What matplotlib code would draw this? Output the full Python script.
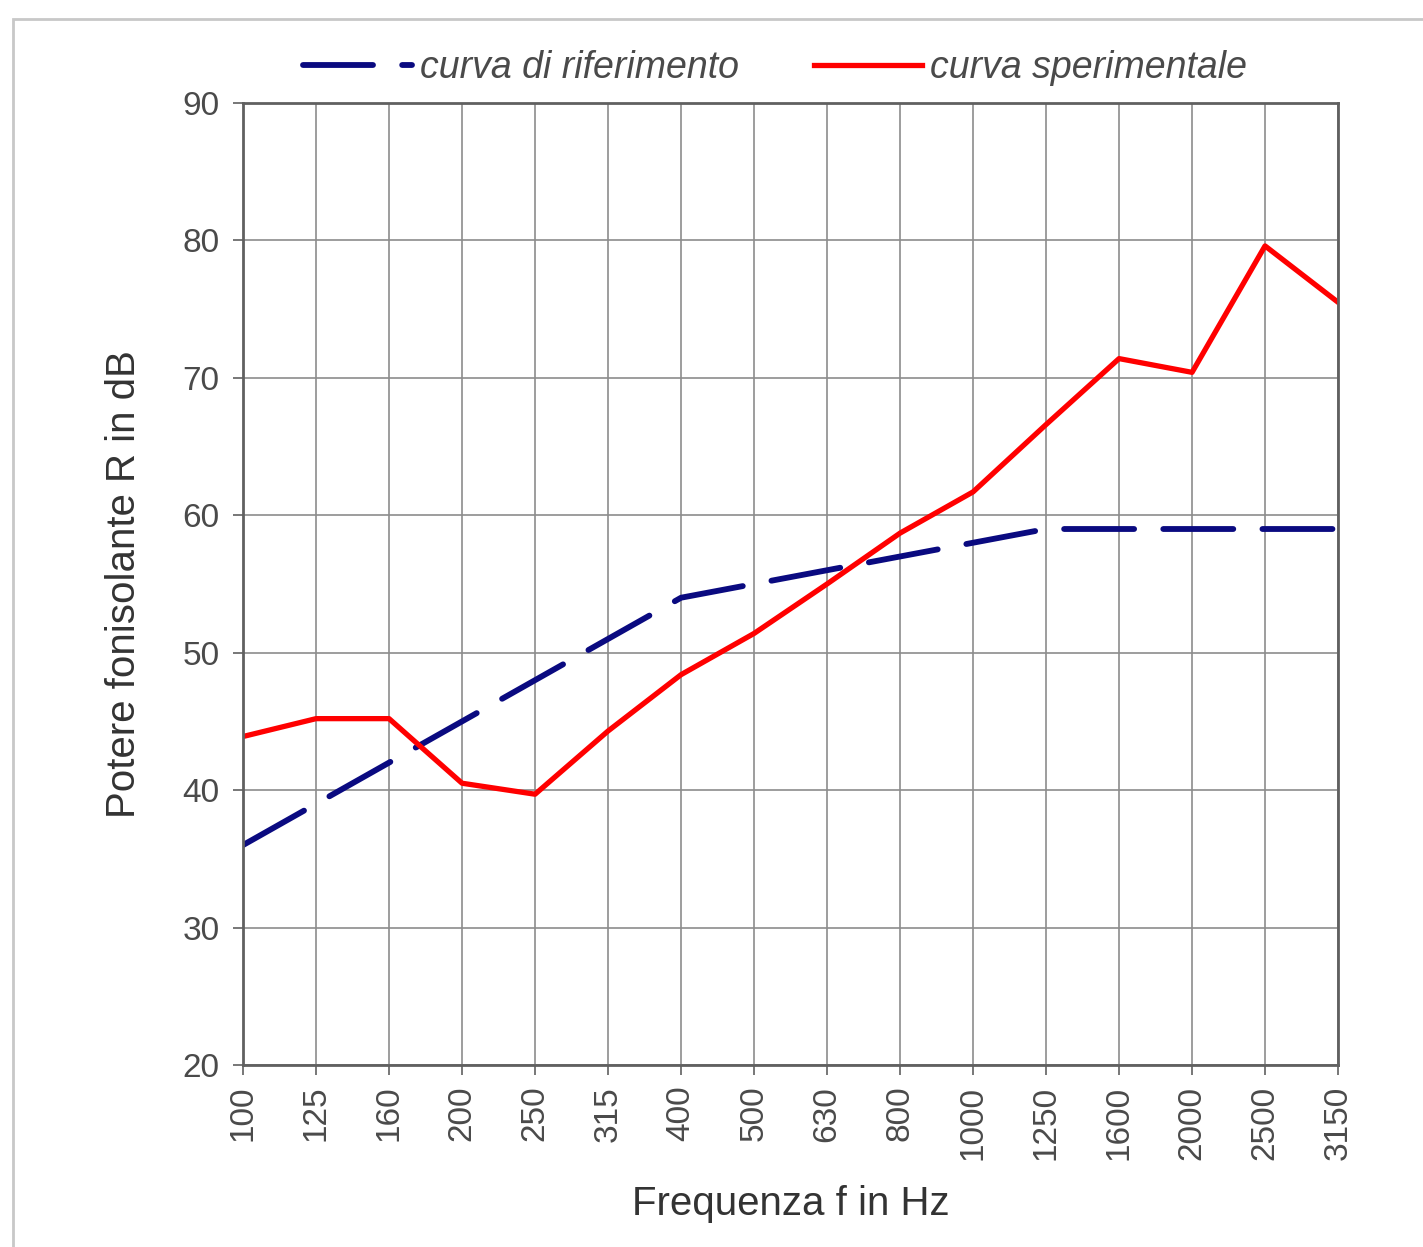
import matplotlib.pyplot as plt
from matplotlib.patches import Rectangle

freq = ['100', '125', '160', '200', '250', '315', '400', '500', '630',
        '800', '1000', '1250', '1600', '2000', '2500', '3150']
riferimento = [36, 39, 42, 45, 48, 51, 54, 55, 56, 57, 58, 59, 59, 59, 59, 59]
sperimentale = [43.9, 45.2, 45.2, 40.5, 39.7, 44.3, 48.4, 51.4, 55.0,
                58.7, 61.7, 66.6, 71.4, 70.4, 79.6, 75.5]

plt.rcParams['font.family'] = ['Liberation Sans', 'DejaVu Sans']
txt = '#4a4a4a'

fig = plt.figure(figsize=(14.23, 12.47), dpi=100)
ax = fig.add_axes([0.1708, 0.1460, 0.7695, 0.7714])

# light frame around the chart
fig.patches.append(Rectangle((13 / 1423, -0.01), 1.02, 1 - 19 / 1247 + 0.01,
                             transform=fig.transFigure, fill=False,
                             edgecolor='#c8c8c8', linewidth=2))

x = list(range(len(freq)))
ax.plot(x, riferimento, color='#0a0a80', linewidth=4.2, linestyle=(0, (12, 5)),
        dash_capstyle='round', label='curva di riferimento')
ax.plot(x, sperimentale, color='#ff0000', linewidth=3.8,
        label='curva sperimentale')

ax.set_xlim(0, len(freq) - 1)
ax.set_ylim(20, 90)
ax.set_xticks(x)
ax.set_xticklabels(freq, rotation=90)
ax.set_yticks(range(20, 91, 10))
ax.grid(True, color='#8c8c8c', linewidth=1.2)
ax.set_axisbelow(True)

for s in ax.spines.values():
    s.set_color('#606060')
    s.set_linewidth(2)

ax.tick_params(axis='both', colors='#606060', labelcolor=txt, labelsize=24,
               length=7, width=1.2)
ax.tick_params(axis='y', pad=10)
ax.tick_params(axis='x', pad=8)

ax.set_xlabel('Frequenza f in Hz', fontsize=29, color='#333333', labelpad=18)
ax.set_ylabel('Potere fonisolante R in dB', fontsize=29, color='#333333',
              labelpad=28)

leg = ax.legend(loc='center', bbox_to_anchor=(0.486, 1.036), ncol=2,
                frameon=False, handlelength=2.9,
                columnspacing=2.0, handletextpad=0.2,
                prop={'style': 'italic', 'size': 27})
for t in leg.get_texts():
    t.set_color(txt)

fig.savefig('out.png', dpi=100, facecolor='white')
